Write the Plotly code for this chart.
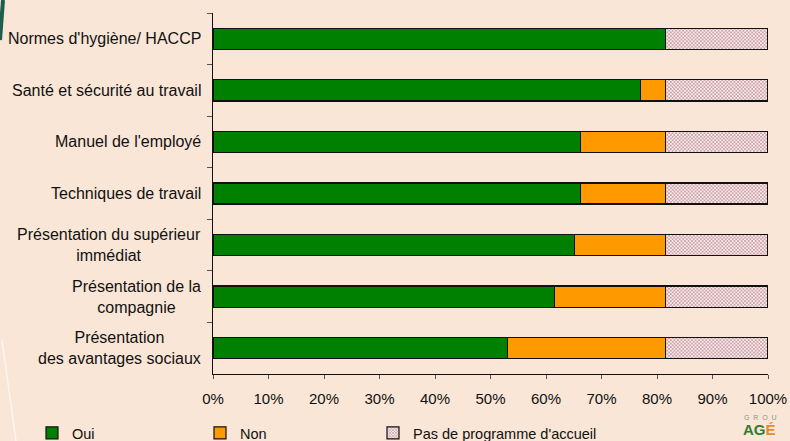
import plotly.graph_objects as go

categories = [
    "Normes d'hygiène/ HACCP",
    "Santé et sécurité au travail",
    "Manuel de l'employé",
    "Techniques de travail",
    "Présentation du supérieur<br>immédiat",
    "Présentation de la<br>compagnie",
    "Présentation<br>des avantages sociaux",
]
oui = [81.6, 77.0, 66.2, 66.2, 65.1, 61.6, 53.0]
non = [0.0, 4.6, 15.4, 15.4, 16.5, 20.0, 28.6]
pas = [18.4, 18.4, 18.4, 18.4, 18.4, 18.4, 18.4]
series_names = ["Oui", "Non", "Pas de programme d'accueil"]
x_ticks = [0, 10, 20, 30, 40, 50, 60, 70, 80, 90, 100]

BG = "#F9E6D7"
L, R, T, B = 213, 768, 13, 374
W, H = R - L, B - T


def px(x):
    return (x - L) / W


def py(y):
    return (B - y) / H


font = "Liberation Sans, Arial, sans-serif"
line = dict(color="#111111", width=1.2)

fig = go.Figure()
fig.add_trace(go.Bar(y=categories, x=oui, name=series_names[0], orientation="h", legend="legend",
                     marker=dict(color="#008000", line=line)))
fig.add_trace(go.Bar(y=categories, x=non, name=series_names[1], orientation="h", legend="legend2",
                     marker=dict(color="#FF9900", line=line)))
fig.add_trace(go.Bar(y=categories, x=pas, name=series_names[2], orientation="h", legend="legend3",
                     marker=dict(color="#C9A0A3", line=line,
                                 pattern=dict(shape="x", fgcolor="#8E2434", bgcolor="#F6ECEC",
                                              size=2.5, solidity=0.45))))

annotations = []
for c in categories:
    annotations.append(dict(x=0, y=c, xref="paper", yref="y", text=c, showarrow=False,
                            xanchor="right", yanchor="middle", align="center", xshift=-10,
                            font=dict(family=font, size=16, color="#111111")))
annotations.append(dict(x=px(742), y=py(417), xref="paper", yref="paper",
                        text="G  R  O  U", showarrow=False, xanchor="left", yanchor="middle",
                        font=dict(family=font, size=7, color="#7FA07F")))
annotations.append(dict(x=px(741), y=py(429), xref="paper", yref="paper",
                        text="<b><span style='color:#2E7D32'>AG</span><span style='color:#E8892B'>É</span></b>",
                        showarrow=False, xanchor="left", yanchor="middle",
                        font=dict(family=font, size=15)))


def leg(x_text):
    return dict(orientation="h", x=px(x_text - 42), xanchor="left", y=py(433), yanchor="middle",
                font=dict(family=font, size=14.5, color="#111111"), bgcolor="rgba(0,0,0,0)",
                itemwidth=30)


shapes = [
    dict(type="line", xref="paper", yref="paper", x0=px(3), y0=py(0), x1=px(0), y1=py(40),
         line=dict(color="#1E5E4C", width=4), layer="below"),
    dict(type="line", xref="paper", yref="paper", x0=px(2), y0=py(340), x1=px(16), y1=py(441),
         line=dict(color="rgba(255,255,255,0.6)", width=1.5), layer="below"),
]

fig.update_layout(
    width=790, height=441,
    margin=dict(l=L, r=790 - R, t=T, b=441 - B, autoexpand=False),
    paper_bgcolor=BG, plot_bgcolor="rgba(0,0,0,0)",
    barmode="stack", bargap=0.59,
    showlegend=True,
    legend=leg(74), legend2=leg(242), legend3=leg(415),
    font=dict(family=font, size=13, color="#111111"),
    annotations=annotations,
    shapes=shapes,
    xaxis=dict(range=[0, 100], tickvals=x_ticks, ticktext=[f"{v}%" for v in x_ticks],
               showgrid=False, zeroline=False, showline=True, linecolor="#111111", linewidth=1,
               ticks="outside", ticklen=4, tickcolor="#555555", ticklabelstandoff=7,
               tickfont=dict(family=font, size=15, color="#111111")),
    yaxis=dict(categoryorder="array", categoryarray=categories, autorange="reversed",
               showgrid=False, zeroline=False, showline=True, linecolor="#111111", linewidth=1,
               ticks="outside", ticklen=5, tickcolor="#555555", tickson="boundaries",
               showticklabels=False),
)
fig.write_html("out.html")
